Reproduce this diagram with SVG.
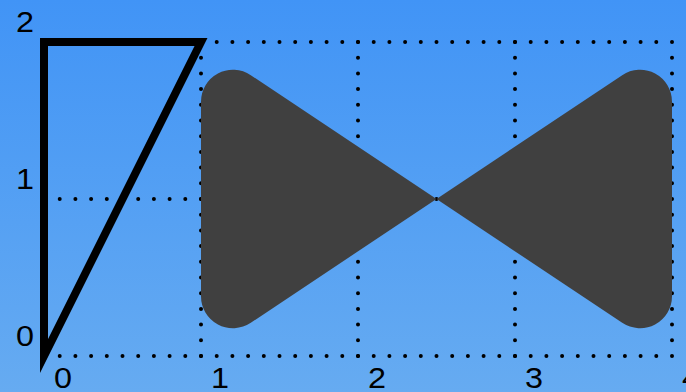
<svg xmlns="http://www.w3.org/2000/svg" width="686" height="392" viewBox="0 0 686 392">
  <defs>
    <linearGradient id="bg" x1="0" y1="0" x2="0" y2="1">
      <stop offset="0" stop-color="#4194f6"/>
      <stop offset="1" stop-color="#66abf1"/>
    </linearGradient>
    <style>
      .grid { stroke: #000; stroke-width: 4; stroke-linecap: round; stroke-dasharray: 0 15.7; fill: none; }
      .lbl { font-family: "Liberation Sans", Arial, sans-serif; font-size: 29px; fill: #000; }
    </style>
  </defs>
  <rect x="0" y="0" width="686" height="392" fill="url(#bg)"/>
  <g id="connectors">
    <g id="grid">
      <line class="grid" x1="44" y1="42" x2="672" y2="42"/>
      <line class="grid" x1="44" y1="199" x2="672" y2="199"/>
      <line class="grid" x1="44" y1="356" x2="672" y2="356"/>
      <line class="grid" x1="44" y1="42" x2="44" y2="356"/>
      <line class="grid" x1="201" y1="42" x2="201" y2="356"/>
      <line class="grid" x1="358" y1="42" x2="358" y2="356"/>
      <line class="grid" x1="515" y1="42" x2="515" y2="356"/>
      <line class="grid" x1="672" y1="42" x2="672" y2="356"/>
    </g>
  </g>
  <g id="bowtie">
    <path fill="#404040" d="M201,101.8 A32,32 0 0 1 250.8,75.2 L436.5,199 L622.2,75.2 A32,32 0 0 1 672,101.8 L672,296.2 A32,32 0 0 1 622.2,322.8 L436.5,199 L250.8,322.8 A32,32 0 0 1 201,296.2 Z"/>
  </g>
  <g id="triangle">
    <polygon points="44,356 44,42 201,42" fill="none" stroke="#000" stroke-width="8" stroke-linejoin="miter" stroke-miterlimit="10"/>
  </g>
  <g id="labels">
    <text class="lbl" x="34" y="32" text-anchor="end" textLength="18" lengthAdjust="spacingAndGlyphs">2</text>
    <text class="lbl" x="34" y="189" text-anchor="end" textLength="18" lengthAdjust="spacingAndGlyphs">1</text>
    <text class="lbl" x="34" y="346" text-anchor="end" textLength="18" lengthAdjust="spacingAndGlyphs">0</text>
    <text class="lbl" x="54" y="388" textLength="18" lengthAdjust="spacingAndGlyphs">0</text>
    <text class="lbl" x="211" y="388" textLength="18" lengthAdjust="spacingAndGlyphs">1</text>
    <text class="lbl" x="368" y="388" textLength="18" lengthAdjust="spacingAndGlyphs">2</text>
    <text class="lbl" x="525" y="388" textLength="18" lengthAdjust="spacingAndGlyphs">3</text>
    <text class="lbl" x="682" y="388" textLength="18" lengthAdjust="spacingAndGlyphs">4</text>
  </g>
</svg>
